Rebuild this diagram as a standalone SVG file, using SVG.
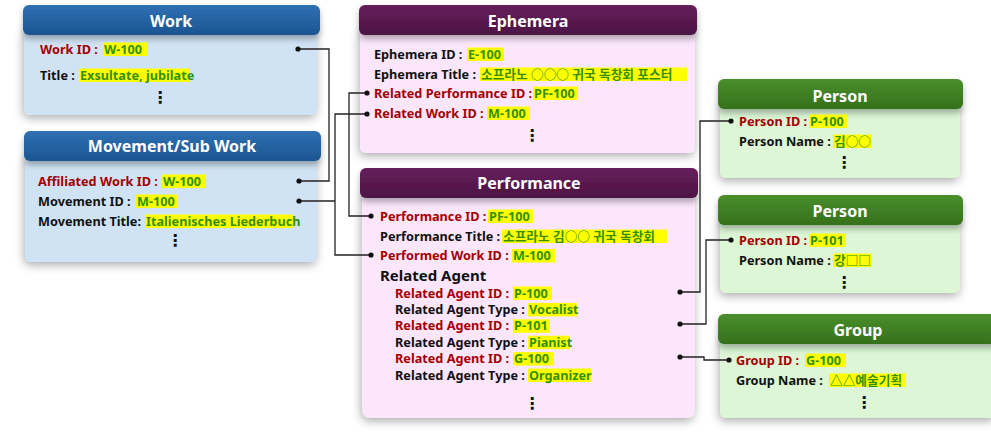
<svg xmlns="http://www.w3.org/2000/svg" width="991" height="432" viewBox="0 0 991 432">
  <defs>
    <linearGradient id="gBlue" x1="0" y1="0" x2="0" y2="1">
      <stop offset="0" stop-color="#2f70b3"/>
      <stop offset="1" stop-color="#1b5590"/>
    </linearGradient>
    <linearGradient id="gPurple" x1="0" y1="0" x2="0" y2="1">
      <stop offset="0" stop-color="#66205b"/>
      <stop offset="1" stop-color="#4c1244"/>
    </linearGradient>
    <linearGradient id="gGreen" x1="0" y1="0" x2="0" y2="1">
      <stop offset="0" stop-color="#4a8f2c"/>
      <stop offset="1" stop-color="#35701c"/>
    </linearGradient>
    <filter id="boxShadow" x="-10%" y="-15%" width="120%" height="135%">
      <feDropShadow dx="-1" dy="3" stdDeviation="5" flood-color="#000" flood-opacity="0.33"/>
    </filter>
    <filter id="headShadow" x="-5%" y="-20%" width="110%" height="180%">
      <feDropShadow dx="0" dy="4" stdDeviation="3" flood-color="#000" flood-opacity="0.3"/>
    </filter>
  </defs>
  <style>
    text { font-family: "Noto Sans", "Noto Sans CJK KR", sans-serif; font-weight: bold; }
    .hd { font-size: 16px; fill: #ffffff; text-anchor: middle; }
    .t { font-size: 12.7px; fill: #111111; }
    .r { fill: #a30000; }
    .v { font-size: 12.7px; fill: #368f00; }
    .big { font-size: 15px; fill: #111111; }
    .dots { font-family: "DejaVu Sans", sans-serif; font-weight: bold; font-size: 16px; fill: #111111; text-anchor: middle; }
    .hl { fill: #ffff00; }
    .bBlue { fill: #d0e3f5; }
    .bPink { fill: #fce6fb; }
    .bGreen { fill: #dcf6d6; }
    .link { fill: none; stroke: #222222; stroke-width: 1.3; }
    .end { fill: #111111; }
  </style>

  <rect x="0" y="0" width="991" height="432" fill="#ffffff"/>

  <!-- Work -->
  <g id="work">
    <rect class="bBlue" x="24" y="28" width="293" height="87" rx="6" filter="url(#boxShadow)"/>
    <rect x="23" y="5" width="297" height="30" rx="6" fill="url(#gBlue)" filter="url(#headShadow)"/>
    <text class="hd" x="171" y="26.5">Work</text>
    <rect class="hl" x="103" y="42.5" width="44" height="13.5"/>
    <text class="t r" x="40" y="53.5">Work ID :</text>
    <text class="v" x="104" y="53.5">W-100</text>
    <rect class="hl" x="79" y="68.5" width="111" height="13.5"/>
    <text class="t" x="40" y="79.5">Title :</text>
    <text class="v" x="80" y="79.5">Exsultate, jubilate</text>
    <text class="dots" x="160" y="103">⋮</text>
  </g>

  <!-- Movement / Sub Work -->
  <g id="movement">
    <rect class="bBlue" x="25" y="154" width="292" height="108" rx="6" filter="url(#boxShadow)"/>
    <rect x="24" y="131" width="297" height="30" rx="6" fill="url(#gBlue)" filter="url(#headShadow)"/>
    <text class="hd" x="172" y="151.5">Movement/Sub Work</text>
    <rect class="hl" x="162" y="174.5" width="44" height="13.5"/>
    <text class="t r" x="38" y="185.5">Affiliated Work ID :</text>
    <text class="v" x="163" y="185.5">W-100</text>
    <rect class="hl" x="136" y="194.5" width="42" height="13.5"/>
    <text class="t" x="38" y="205.5">Movement ID :</text>
    <text class="v" x="137" y="205.5">M-100</text>
    <rect class="hl" x="145" y="214.5" width="148" height="13.5"/>
    <text class="t" x="38" y="225.5">Movement Title:</text>
    <text class="v" x="146" y="225.5">Italienisches Liederbuch</text>
    <text class="dots" x="175" y="246">⋮</text>
  </g>

  <!-- Ephemera -->
  <g id="ephemera">
    <rect class="bPink" x="360" y="28" width="335" height="125" rx="6" filter="url(#boxShadow)"/>
    <rect x="359" y="5" width="338" height="30" rx="6" fill="url(#gPurple)" filter="url(#headShadow)"/>
    <text class="hd" x="528" y="26.5">Ephemera</text>
    <rect class="hl" x="467" y="47.5" width="37" height="13.5"/>
    <text class="t" x="374" y="58.5">Ephemera ID :</text>
    <text class="v" x="468" y="58.5">E-100</text>
    <rect class="hl" x="480" y="67.5" width="207" height="13.5"/>
    <text class="t" x="374" y="78.5">Ephemera Title :</text>
    <text class="v" x="481" y="78.5">소프라노 ○○○ 귀국 독창회 포스터</text>
    <rect class="hl" x="533" y="86.5" width="45" height="13.5"/>
    <text class="t r" x="374" y="97.5">Related Performance ID :</text>
    <text class="v" x="534" y="97.5">PF-100</text>
    <rect class="hl" x="487" y="106.5" width="43" height="13.5"/>
    <text class="t r" x="374" y="117.5">Related Work ID :</text>
    <text class="v" x="488" y="117.5">M-100</text>
    <text class="dots" x="532" y="141">⋮</text>
  </g>

  <!-- Performance -->
  <g id="performance">
    <rect class="bPink" x="362" y="191" width="333" height="227" rx="8" filter="url(#boxShadow)"/>
    <rect x="360" y="168" width="338" height="30" rx="6" fill="url(#gPurple)" filter="url(#headShadow)"/>
    <text class="hd" x="529" y="188.5">Performance</text>
    <rect class="hl" x="488" y="209.5" width="45" height="13.5"/>
    <text class="t r" x="380" y="220.5">Performance ID :</text>
    <text class="v" x="489" y="220.5">PF-100</text>
    <rect class="hl" x="502" y="229.5" width="165" height="13.5"/>
    <text class="t" x="380" y="240.5">Performance Title :</text>
    <text class="v" x="503" y="240.5">소프라노 김○○ 귀국 독창회</text>
    <rect class="hl" x="512" y="249" width="43" height="13.5"/>
    <text class="t r" x="380" y="260">Performed Work ID :</text>
    <text class="v" x="513" y="260">M-100</text>
    <text class="big" x="380" y="280.5">Related Agent</text>
    <rect class="hl" x="513" y="286.5" width="39" height="13.5"/>
    <text class="t r" x="395" y="297.5">Related Agent ID :</text>
    <text class="v" x="514" y="297.5">P-100</text>
    <rect class="hl" x="528" y="302.9" width="49" height="13.5"/>
    <text class="t" x="395" y="313.9">Related Agent Type :</text>
    <text class="v" x="529" y="313.9">Vocalist</text>
    <rect class="hl" x="513" y="319.3" width="37" height="13.5"/>
    <text class="t r" x="395" y="330.3">Related Agent ID :</text>
    <text class="v" x="514" y="330.3">P-101</text>
    <rect class="hl" x="528" y="335.7" width="42" height="13.5"/>
    <text class="t" x="395" y="346.7">Related Agent Type :</text>
    <text class="v" x="529" y="346.7">Pianist</text>
    <rect class="hl" x="513" y="352.1" width="41" height="13.5"/>
    <text class="t r" x="395" y="363.1">Related Agent ID :</text>
    <text class="v" x="514" y="363.1">G-100</text>
    <rect class="hl" x="528" y="368.5" width="63" height="13.5"/>
    <text class="t" x="395" y="379.5">Related Agent Type :</text>
    <text class="v" x="529" y="379.5">Organizer</text>
    <text class="dots" x="532" y="409">⋮</text>
  </g>

  <!-- Person P-100 -->
  <g id="person1">
    <rect class="bGreen" x="720" y="102" width="240" height="76" rx="6" filter="url(#boxShadow)"/>
    <rect x="718" y="79" width="245" height="30" rx="6" fill="url(#gGreen)" filter="url(#headShadow)"/>
    <text class="hd" x="840" y="101.5">Person</text>
    <rect class="hl" x="809" y="114.5" width="38" height="13.5"/>
    <text class="t r" x="739" y="125.5">Person ID :</text>
    <text class="v" x="810" y="125.5">P-100</text>
    <rect class="hl" x="833" y="134.5" width="39" height="13.5"/>
    <text class="t" x="739" y="145.5">Person Name :</text>
    <text class="v" x="834" y="145.5">김○○</text>
    <text class="dots" x="844" y="168">⋮</text>
  </g>

  <!-- Person P-101 -->
  <g id="person2">
    <rect class="bGreen" x="720" y="218" width="240" height="75" rx="6" filter="url(#boxShadow)"/>
    <rect x="718" y="195" width="245" height="30" rx="6" fill="url(#gGreen)" filter="url(#headShadow)"/>
    <text class="hd" x="840" y="216.5">Person</text>
    <rect class="hl" x="809" y="233.5" width="37" height="13.5"/>
    <text class="t r" x="739" y="244.5">Person ID :</text>
    <text class="v" x="810" y="244.5">P-101</text>
    <rect class="hl" x="833" y="253.5" width="39" height="13.5"/>
    <text class="t" x="739" y="264.5">Person Name :</text>
    <text class="v" x="834" y="264.5">강□□</text>
    <text class="dots" x="844" y="288">⋮</text>
  </g>

  <!-- Group G-100 -->
  <g id="group">
    <rect class="bGreen" x="720" y="337" width="276" height="81" rx="6" filter="url(#boxShadow)"/>
    <rect x="718" y="314" width="285" height="30" rx="6" fill="url(#gGreen)" filter="url(#headShadow)"/>
    <text class="hd" x="858" y="335.5">Group</text>
    <rect class="hl" x="805" y="353.5" width="41" height="13.5"/>
    <text class="t r" x="736" y="364.5">Group ID :</text>
    <text class="v" x="806" y="364.5">G-100</text>
    <rect class="hl" x="829" y="373.5" width="77" height="13.5"/>
    <text class="t" x="736" y="384.5">Group Name :</text>
    <text class="v" x="830" y="384.5">△△예술기획</text>
    <text class="dots" x="864" y="408">⋮</text>
  </g>

  <!-- Connectors -->
  <g id="connectors">
    <path class="link" d="M298,49 H329 V181 H299"/>
    <path class="link" d="M299,201 H335 M367,114 H335 V255 H371"/>
    <path class="link" d="M367,93 H349 V216 H371"/>
    <path class="link" d="M680,292 H700 V121 H731"/>
    <path class="link" d="M680,324 H706 V240 H731"/>
    <path class="link" d="M680,357 H704 V360 H729"/>
    <circle class="end" cx="298" cy="49" r="2.6"/>
    <circle class="end" cx="299" cy="181" r="2.6"/>
    <circle class="end" cx="299" cy="201" r="2.6"/>
    <circle class="end" cx="367" cy="114" r="2.6"/>
    <circle class="end" cx="371" cy="255" r="2.6"/>
    <circle class="end" cx="367" cy="93" r="2.6"/>
    <circle class="end" cx="371" cy="216" r="2.6"/>
    <circle class="end" cx="680" cy="292" r="2.6"/>
    <circle class="end" cx="731" cy="121" r="2.6"/>
    <circle class="end" cx="680" cy="324" r="2.6"/>
    <circle class="end" cx="731" cy="240" r="2.6"/>
    <circle class="end" cx="680" cy="357" r="2.6"/>
    <circle class="end" cx="729" cy="360" r="2.6"/>
  </g>
</svg>
